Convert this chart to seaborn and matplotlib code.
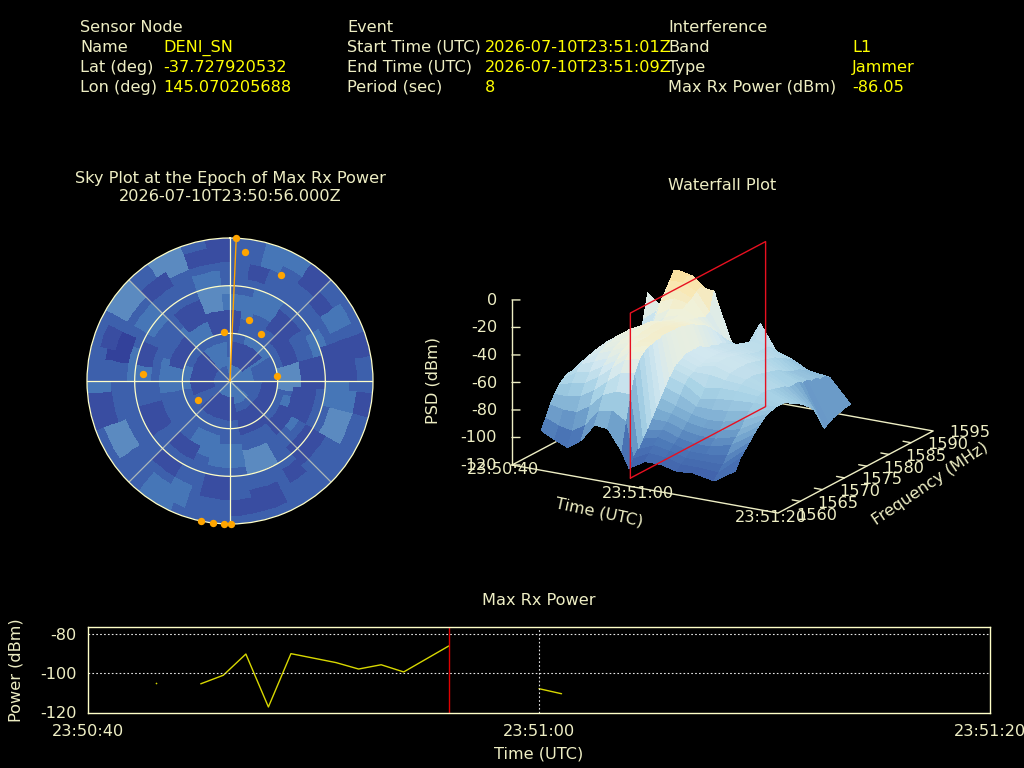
import numpy as np
import pandas as pd
import matplotlib
matplotlib.use("Agg")
import matplotlib.pyplot as plt
import seaborn as sns
from matplotlib.colors import LinearSegmentedColormap, ListedColormap
from mpl_toolkits.mplot3d import proj3d

# ---------- data ----------
NODE_ROWS = [("Sensor Node", ""), ("Name", "DENI_SN"), ("Lat (deg)", "-37.727920532"), ("Lon (deg)", "145.070205688")]
EVENT_ROWS = [("Event", ""), ("Start Time (UTC)", "2026-07-10T23:51:01Z"), ("End Time (UTC)", "2026-07-10T23:51:09Z"), ("Period (sec)", "8")]
INTF_ROWS = [("Interference", ""), ("Band", "L1"), ("Type", "Jammer"), ("Max Rx Power (dBm)", "-86.05")]

power_sec = [3, 5, 6, 7, 8, 9, 11, 12, 13, 14, 16, 20, 21]
power_dbm = [-105, -105.5, -101.1, -90.2, -117.4, -90, -94.6, -97.9, -95.7, -99.4, -86.05, -108, -110.6]
power_seg = [0, 1, 1, 1, 1, 1, 1, 1, 1, 1, 1, 2, 2]
time_ticks = [0, 20, 40]
time_labels = ["23:50:40", "23:51:00", "23:51:20"]
power_ticks = [-80, -100, -120]

sat_az = [2.5, 6.7, 25.7, 17.7, 33.9, 353.4, 274.3, 84.4, 238.6, 191.5, 187, 182.6, 179.5]
sat_zen = [90, 82, 74.3, 40, 35.3, 30.8, 55.2, 29.9, 23.3, 90, 90, 90, 90]

# sky-map blotches: azimuth, zenith angle, shade level
sky_blotches = [
    (333, 83, 4), (307, 82, 4), (350, 51, 4), (347, 65, 3), (19, 83, 3), (33, 85, 3), (60, 77, 3), (89, 39, 4),
    (95, 67, 3), (114, 71, 4), (162, 54, 4), (182, 47, 3), (202, 44, 3), (205, 78, 3), (213, 82, 3), (241, 77, 4),
    (180, 7, 3), (42, 9, 3), (40, 24, 3), (275, 31, 3), (279, 56, 3), (26, 52, 3), (7, 49, 3), (116, 42, 3),
    (274, 38, 3), (325, 18, 3), (330, 37, 3), (266, 82, 3), (307, 63, 3), (100, 72, 3), (70, 60, 3),
    (288, 73, 0), (354, 83, 1), (345, 80, 1), (40, 81, 1), (50, 75, 1), (44, 48, 1), (331, 48, 1), (322, 75, 1),
    (80, 68, 1), (76, 82, 1), (107, 48, 1), (128, 40, 1), (145, 70, 1), (162, 76, 1), (172, 80, 1), (187, 67, 1),
    (217, 65, 1), (215, 50, 1), (257, 81, 1), (247, 52, 1), (292, 18, 1), (355, 38, 1), (15, 70, 1), (85, 52, 1),
    (84, 72, 1), (100, 87, 1), (153, 27, 1), (201, 17, 1), (278, 19, 1), (288, 55, 1), (26, 19, 1), (113, 25, 1),
    (130, 62, 1), (290, 80, 1), (300, 35, 1), (60, 40, 1),
]

wf_time_frac = [.11, .16, .21, .26, .31, .36, .41, .44, .50, .56, .62, .68, .76, .84]
wf_freq = list(range(1560, 1587))
wf_psd = [
    [-91, -84, -76, -70, -65, -62, -60, -60, -58, -58, -56, -55, -54, -54, -55, -56, -57, -58, -60, -62, -64, -64, -62, -50, -32, -50, -64],
    [-96, -88, -78, -70, -62, -56, -52, -50, -48, -48, -46, -46, -45, -45, -46, -47, -48, -50, -52, -54, -56, -55, -50, -42, -40, -48, -58],
    [-100, -90, -78, -68, -60, -54, -48, -44, -42, -40, -40, -38, -38, -38, -38, -40, -42, -44, -46, -44, -38, -30, -24, -18, -12, -14, -26],
    [-93, -84, -72, -62, -54, -48, -44, -40, -38, -36, -36, -35, -34, -34, -33, -33, -34, -36, -38, -36, -32, -26, -22, -18, -15, -16, -30],
    [-80, -72, -62, -54, -46, -42, -38, -36, -34, -33, -32, -31, -31, -30, -30, -31, -32, -33, -34, -33, -30, -28, -26, -23, -21, -24, -42],
    [-81, -70, -58, -46, -38, -34, -32, -30, -30, -30, -29, -29, -29, -29, -30, -30, -31, -32, -33, -34, -35, -36, -38, -36, -22, -34, -56],
    [-95, -76, -58, -44, -36, -32, -30, -29, -28, -28, -28, -28, -28, -28, -29, -30, -31, -33, -35, -37, -40, -44, -48, -52, -56, -60, -66],
    [-107, -102, -97, -91, -86, -80, -74, -68, -62, -56, -52, -50, -48, -46, -46, -46, -46, -48, -50, -50, -52, -52, -54, -56, -58, -62, -66],
    [-100, -96, -92, -88, -84, -80, -76, -72, -66, -60, -56, -54, -52, -51, -50, -50, -50, -50, -51, -52, -52, -52, -54, -54, -54, -54, -44],
    [-100, -97, -94, -91, -88, -84, -80, -76, -72, -68, -62, -54, -49, -48, -48, -48, -49, -50, -51, -52, -54, -55, -56, -56, -56, -58, -62],
    [-103, -100, -97, -94, -90, -86, -82, -78, -72, -66, -60, -56, -53, -52, -52, -52, -52, -53, -54, -55, -56, -57, -58, -60, -62, -64, -66],
    [-102, -100, -97, -94, -90, -86, -82, -77, -71, -65, -60, -57, -55, -55, -55, -56, -57, -58, -59, -60, -62, -64, -66, -67, -68, -70, -72],
    [-105, -101, -97, -92, -86, -82, -78, -73, -68, -64, -61, -60, -60, -61, -62, -63, -64, -66, -66, -66, -68, -68, -70, -70, -72, -72, -74],
    [-95, -88, -84, -80, -76, -72, -69, -66, -65, -64, -64, -64, -66, -68, -70, -72, -75, -78, -82, -90, -98, -96, -94, -93, -92, -91, -91],
]
psd_ticks = [0, -20, -40, -60, -80, -100, -120]
freq_ticks = [1560, 1565, 1570, 1575, 1580, 1585, 1590, 1595]

# ---------- style ----------
LABEL = "#eeeec4"
VALUE = "#ffff00"
sns.set_theme(style="dark", rc={"figure.facecolor": "black", "axes.facecolor": "black", "savefig.facecolor": "black"})
plt.rcParams["font.family"] = ["DejaVu Sans"]
plt.rcParams["axes.unicode_minus"] = False
FS = 11.6
W, H = 1024, 768
fig = plt.figure(figsize=(W / 100, H / 100), dpi=100)

def px(x, y, s, color=LABEL, ha="left", size=FS, rot=0, va="baseline"):
    fig.text(x / W, 1 - y / H, s, color=color, ha=ha, va=va, fontsize=size, rotation=rot, rotation_mode="anchor")

def axbox(l, t, r, b):
    return [l / W, 1 - b / H, (r - l) / W, (b - t) / H]

# ---------- header ----------
ys = [32, 52, 72, 92]
for rows, xl, xv in ((NODE_ROWS, 80, 163), (EVENT_ROWS, 347, 485), (INTF_ROWS, 668, 852)):
    for (k, v), y in zip(rows, ys):
        px(xl, y, k)
        if v:
            px(xv, y, v, color=VALUE)
px(230, 183, "Sky Plot at the Epoch of Max Rx Power", ha="center")
px(230, 201, "2026-07-10T23:50:56.000Z", ha="center")
px(722, 190, "Waterfall Plot", ha="center")
px(539, 605, "Max Rx Power", ha="center")

# ---------- sky plot ----------
sky_cmap = ListedColormap(["#33419a", "#394da1", "#3d60ac", "#4676b7", "#5b8ac0"])
az_c = np.arange(2.5, 360, 5)
zen_c = np.arange(2.5, 90, 5)
sky = np.full((len(zen_c), len(az_c)), 2.0)
for az0, zen0, lev in sky_blotches:
    half_az = min(np.degrees(9 / max(zen0, 8)), 50)
    d_az = np.abs((az_c - az0 + 180) % 360 - 180)
    for iz, z in enumerate(zen_c):
        if abs(z - zen0) <= 7:
            sky[iz, d_az <= half_az] = lev
axp = fig.add_axes(axbox(87, 238, 373, 524), projection="polar")
axp.set_theta_zero_location("N")
axp.set_theta_direction(-1)
axp.pcolormesh(np.deg2rad(np.arange(0, 361, 5)), np.arange(0, 91, 5), sky, cmap=sky_cmap, vmin=-0.5, vmax=4.5, shading="flat")
axp.set_rlim(0, 90)
axp.set_xticks([])
axp.set_yticks([])
axp.grid(False)
axp.spines["polar"].set_color("#ffffc8")
axp.spines["polar"].set_linewidth(0.9)
circ = np.linspace(0, 2 * np.pi, 361)
for r in (30, 60):
    axp.plot(circ, np.full_like(circ, r), color="#ffffc8", lw=0.9)
for a in (0, 90, 180, 270):
    axp.plot(np.deg2rad([a, a]), [0, 90], color="#ffffc8", lw=0.9)
for a in (45, 135, 225, 315):
    axp.plot(np.deg2rad([a, a]), [0, 90], color="#e8e8c0", lw=0.9, alpha=0.65)
axp.plot(np.deg2rad([sat_az[0], sat_az[0]]), [0, 90], color="#ffa500", lw=1.0)
axp.scatter(np.deg2rad(sat_az), sat_zen, s=28, color="#ffa500", marker="o", linewidth=0, zorder=5, clip_on=False)

# ---------- power strip ----------
axl = fig.add_axes(axbox(88, 627, 990, 713))
df = pd.DataFrame({"sec": power_sec, "dbm": power_dbm, "seg": power_seg})
sns.lineplot(data=df[df.seg > 0], x="sec", y="dbm", units="seg", estimator=None, sort=False, color="#d8d800", lw=1.0, ax=axl)
sns.scatterplot(data=df[df.seg == 0], x="sec", y="dbm", color="#d8d800", s=1.5, linewidth=0, ax=axl)
axl.set_xlim(0, 40)
axl.set_ylim(-120.5, -76.3)
axl.set_xticks(time_ticks)
axl.set_xticklabels(time_labels)
axl.set_yticks(power_ticks)
axl.tick_params(colors=LABEL, labelsize=FS, length=0, pad=8)
axl.set_xlabel("Time (UTC)", color=LABEL, fontsize=FS, labelpad=5)
axl.set_ylabel("Power (dBm)", color=LABEL, fontsize=FS, labelpad=12)
for s in axl.spines.values():
    s.set_color("#ffffc8")
    s.set_linewidth(1.0)
axl.grid(False)
for v in (-80, -100):
    axl.axhline(v, color="#e8e8e8", lw=0.8, ls=(0, (1.5, 2)))
axl.axvline(20, color="#e8e8e8", lw=0.8, ls=(0, (1.5, 2)))
axl.axvline(16, color="#e00000", lw=1.0)

# ---------- waterfall ----------
wf_cmap = LinearSegmentedColormap.from_list("wf", [
    (0.00, "#3d5aa6"), (0.05, "#3f5fa9"), (0.18, "#4c78b7"), (0.31, "#77a8cf"), (0.47, "#a9d3e6"),
    (0.61, "#d3e8f0"), (0.76, "#f0f1da"), (0.88, "#f9e6b0"), (1.00, "#fcd98c")])
ax3 = fig.add_axes([0.35, 0.1, 0.7, 0.8], projection="3d", proj_type="ortho", computed_zorder=False)
ax3.patch.set_alpha(0)
ax3.set_axis_off()
ax3.view_init(elev=18, azim=-59.7)
ax3.set_box_aspect((308, 307.5, 173.5))
ax3.set_xlim(0, 40)
ax3.set_ylim(1560, 1595)
ax3.set_zlim(-120, 0)

T, F = np.meshgrid(np.array(wf_time_frac) * 40, wf_freq, indexing="ij")
Z = np.array(wf_psd, dtype=float)
norm = plt.Normalize(-110, -8)
Zc = (Z[:-1, :-1] + Z[1:, :-1] + Z[:-1, 1:] + Z[1:, 1:]) / 4
ax3.plot([0, 40, 40, 0, 0], [1560, 1560, 1595, 1595, 1560], [-120] * 5, color=LABEL, lw=1.0, zorder=1)
ax3.plot([0, 0], [1560, 1560], [-120, 0], color=LABEL, lw=1.0, zorder=1)
ax3.plot_surface(T, F, Z, facecolors=wf_cmap(norm(Zc)), rstride=1, cstride=1, shade=False, linewidth=0, antialiased=False, zorder=2)
plane_t = 17.8
ax3.plot([plane_t] * 5, [1560, 1590.5, 1590.5, 1560, 1560], [-114, -114, 6, 6, -114], color="#e81020", lw=1.0, zorder=4)
for v in psd_ticks:
    ax3.plot([0, 0.9], [1560, 1560.46], [v, v], color=LABEL, lw=1.0, zorder=1)
for f in freq_ticks[1:-1]:
    ax3.plot([40, 38.8], [f, f], [-120, -120], color=LABEL, lw=1.0, zorder=1)

# fit the 3D box onto the reference's pixel corners
for _ in range(4):
    fig.canvas.draw()
    M = ax3.get_proj()
    def scr(x, y, z):
        a, b, _c = proj3d.proj_transform(x, y, z, M)
        return ax3.transData.transform((a, b))
    p0 = scr(0, 1560, -120)
    p1 = scr(40, 1560, -120)
    scale = 266 / (p1[0] - p0[0])
    pos = ax3.get_position()
    nw, nh = pos.width * scale, pos.height * scale
    nl = pos.x0 + (pos.width - nw) / 2
    nb = pos.y0 + (pos.height - nh) / 2
    ax3.set_position([nl, nb, nw, nh])
    fig.canvas.draw()
    M = ax3.get_proj()
    p0 = scr(0, 1560, -120)
    ax3.set_position([nl + (512 - p0[0]) / W, nb + ((H - 465) - p0[1]) / H, nw, nh])

for v in psd_ticks:
    px(497, 470 - (v + 120) * 165 / 120, str(v), ha="right")
for s, x, y in zip(time_labels, [503, 638, 771], [474, 498, 522]):
    px(x, y, s, ha="center")
for s, x, y in zip(freq_ticks, [817, 838, 860, 882, 904, 926, 948, 970], [520, 508, 496, 484, 473, 461, 449, 437]):
    px(x, y, str(s), ha="center")
px(599, 512, "Time (UTC)", ha="center", rot=-12, va="center")
px(930, 484, "Frequency (MHz)", ha="center", rot=34, va="center")
px(433, 381, "PSD (dBm)", ha="center", rot=90, va="center")

fig.savefig("out.png", dpi=100)
